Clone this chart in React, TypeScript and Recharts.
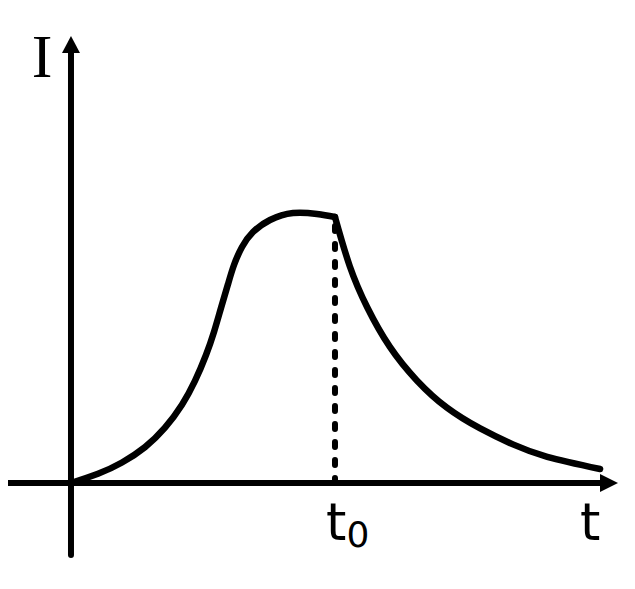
import React from "react";
import { LineChart, Line, XAxis, YAxis, ReferenceLine, ReferenceDot } from "recharts";

// Rising part of the current curve (t, I) up to t0
const riseT = [0, 0.511, 0.966, 1.402, 1.78, 2.102, 2.348, 2.557, 2.708, 2.841, 2.973, 3.087, 3.239, 3.447, 3.769, 4.205, 4.659, 5.0];
const riseI = [0, 0.34, 0.76, 1.33, 2.05, 2.9, 3.78, 4.741, 5.593, 6.481, 7.36, 8.074, 8.741, 9.296, 9.741, 10.0, 9.963, 9.852];
// Decay after t0
const decayT = [5, 5.28, 5.61, 6.04, 6.55, 7.12, 7.75, 8.37, 9.02, 10.02];
const decayI = [9.852, 8.03, 6.51, 5.04, 3.8, 2.79, 2.02, 1.43, 0.97, 0.52];

const T0 = 5;
const xDomain = [-1.193, 10.682];
const yDomain = [-3.926, 17.593];
const xAxisExtent = [-1.174, 10.1, 10.36]; // start, line end, arrow tip
const yAxisExtent = [-2.67, 16.0, 16.56];

const riseData = riseT.map((t, i) => ({ t, I: riseI[i] }));
const decayData = decayT.map((t, i) => ({ t, I: decayI[i] }));

const ArrowRight = (props: any) => {
  const { cx, cy } = props;
  return <polygon points={`${cx},${cy} ${cx - 18},${cy - 9} ${cx - 18},${cy + 9}`} fill="#000" />;
};
const ArrowUp = (props: any) => {
  const { cx, cy } = props;
  return <polygon points={`${cx},${cy} ${cx - 9},${cy + 17} ${cx + 9},${cy + 17}`} fill="#000" />;
};

export default function App() {
  return (
    <LineChart width={627} height={581} margin={{ top: 0, right: 0, bottom: 0, left: 0 }}>
      <XAxis type="number" dataKey="t" domain={xDomain} allowDataOverflow hide />
      <YAxis type="number" dataKey="I" domain={yDomain} allowDataOverflow hide />
      <ReferenceLine
        segment={[{ x: xAxisExtent[0], y: 0 }, { x: xAxisExtent[1], y: 0 }]}
        stroke="#000"
        strokeWidth={6}
        strokeLinecap="round"
      />
      <ReferenceLine
        segment={[{ x: 0, y: yAxisExtent[0] }, { x: 0, y: yAxisExtent[1] }]}
        stroke="#000"
        strokeWidth={6}
        strokeLinecap="round"
      />
      <ReferenceDot x={xAxisExtent[2]} y={0} r={1} shape={ArrowRight} />
      <ReferenceDot x={0} y={yAxisExtent[2]} r={1} shape={ArrowUp} />
      <ReferenceLine
        segment={[{ x: T0, y: 0 }, { x: T0, y: riseI[riseI.length - 1] }]}
        stroke="#000"
        strokeWidth={6}
        strokeLinecap="round"
        strokeDasharray="5 13"
      />
      <Line
        data={riseData}
        dataKey="I"
        type="natural"
        stroke="#000"
        strokeWidth={6.5}
        strokeLinecap="round"
        strokeLinejoin="round"
        dot={false}
        activeDot={false}
        isAnimationActive={false}
      />
      <Line
        data={decayData}
        dataKey="I"
        type="natural"
        stroke="#000"
        strokeWidth={6.5}
        strokeLinecap="round"
        strokeLinejoin="round"
        dot={false}
        activeDot={false}
        isAnimationActive={false}
      />
      <text x={34} y={69} textAnchor="middle" fontFamily="Liberation Serif" fontSize={62} fill="#000">I</text>
      <text x={318} y={532} fontFamily="DejaVu Sans" fontSize={52} fill="#000">
        t<tspan fontSize={36} dy={7}>0</tspan>
      </text>
      <text x={572} y={532} fontFamily="DejaVu Sans" fontSize={52} fill="#000">t</text>
    </LineChart>
  );
}
